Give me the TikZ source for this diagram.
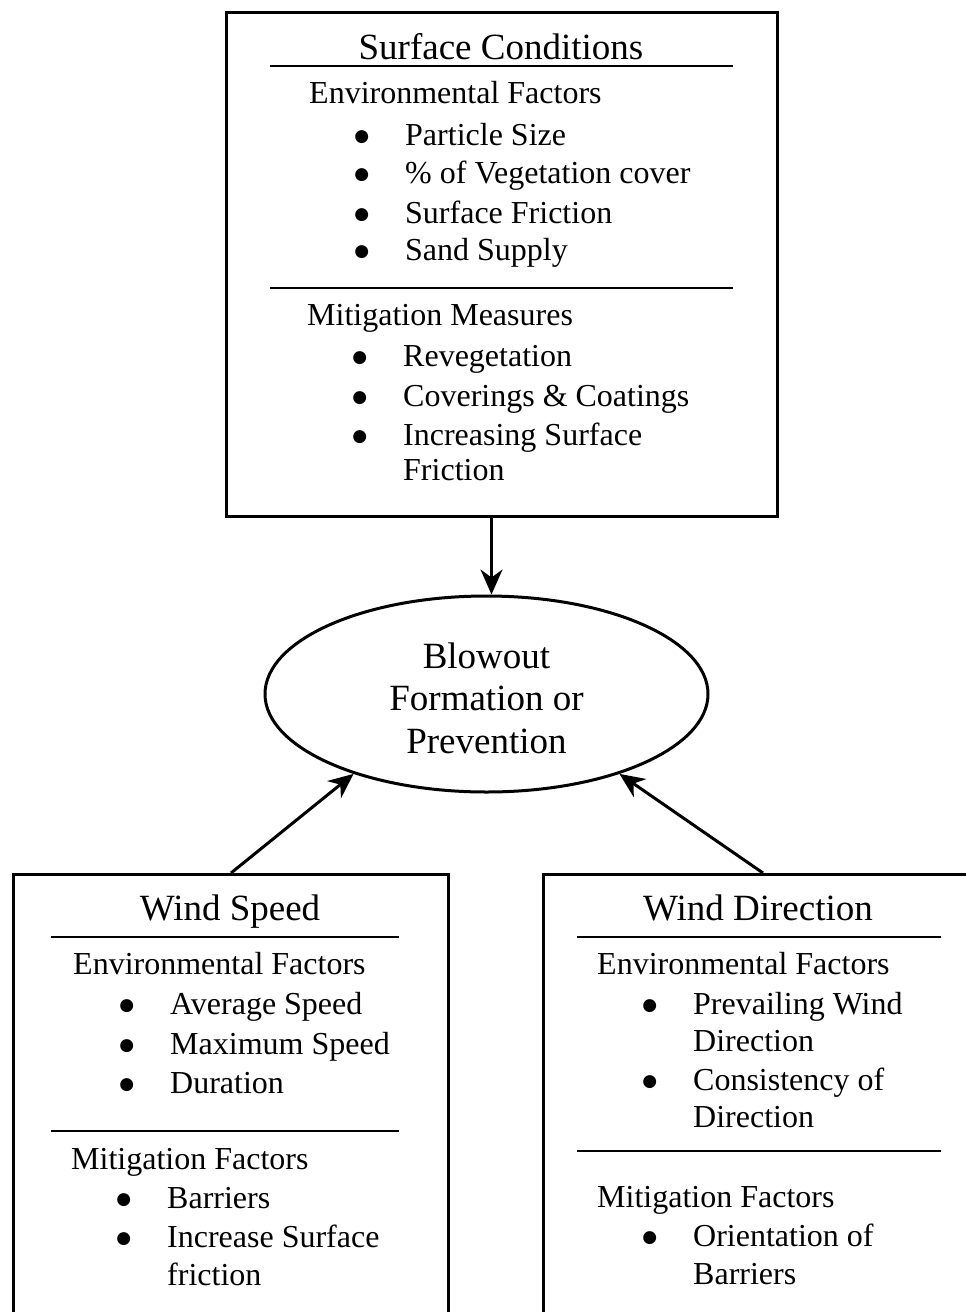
\documentclass[tikz,border=0pt]{standalone}
\usepackage{fontspec}
\setmainfont{Liberation Serif}
\newfontfamily\dotfont{DejaVu Sans}
\usetikzlibrary{arrows.meta,positioning,shapes.geometric}

\newcommand{\headsize}{\fontsize{37}{42.5}\selectfont}
\newcommand{\bodysize}{\fontsize{32}{37}\selectfont}
\newcommand{\bul}{\llap{\raisebox{4pt}{\dotfont\fontsize{17}{17}\selectfont ●}\hspace{36pt}}}

\tikzset{
	panel/.style={draw, line width=3pt, anchor=north west, inner sep=0pt},
	rule/.style={line width=2pt},
	head/.style={font=\headsize, anchor=base, inner sep=0pt},
	body/.style={font=\bodysize, anchor=base west, inner sep=0pt},
	link/.style={line width=3pt, -{Stealth[length=25pt,width=22pt,inset=8pt]}}
}

\begin{document}
\begin{tikzpicture}[x=1pt,y=1pt,yscale=-1,xscale=1]
		\useasboundingbox (0,0) rectangle (966,1312);
		\clip (0,0) rectangle (966,1312);
		
		%Shape: Boxes
		\node [panel, minimum width=551pt, minimum height=504pt] (surface) at (225,11) {};
		\node [panel, minimum width=435pt, minimum height=480pt] (speed) at (12,873) {};
		\node [panel, minimum width=460pt, minimum height=480pt] (direction) at (542,873) {};
		\coordinate (dirtop) at (763,873);
		
		%Shape: Ellipse
		\node [draw, ellipse, line width=3pt, inner sep=0pt, minimum width=443pt, minimum height=196pt] (blowout) at (486.5,694) {};
		\node [head] (blowout1) at (486.5,668) {Blowout};
		\node [head] (blowout2) at (486.5,710.5) {Formation or};
		\node [head] (blowout3) at (486.5,753) {Prevention};
		
		%Straight Lines
		\draw [link] ([xshift=5pt]blowout.north |- surface.south) -- ([xshift=5pt]blowout.north);
		\draw [link] (speed.north) -- (blowout.211);
		\draw [link] (dirtop) -- (blowout.329);
		
		% Surface Conditions
		\node [head] (sc-title) at (501,59) {Surface Conditions};
		\draw [rule] (270,66) -- (733,66);
		\node [body] (sc-env) at (309,103) {Environmental Factors};
		\node [body] (sc-e1) at (405,145) {\bul Particle Size};
		\node [body] (sc-e2) at (405,183) {\bul\% of Vegetation cover};
		\node [body] (sc-e3) at (405,223) {\bul Surface Friction};
		\node [body] (sc-e4) at (405,260) {\bul Sand Supply};
		\draw [rule] (270,288) -- (733,288);
		\node [body] (sc-mit) at (307,325) {Mitigation Measures};
		\node [body] (sc-m1) at (403,366) {\bul Revegetation};
		\node [body] (sc-m2) at (403,406) {\bul Coverings \& Coatings};
		\node [body] (sc-m3) at (403,445) {\bul Increasing Surface};
		\node [body] (sc-m3b) at (403,480) {Friction};
		
		% Wind Speed
		\node [head] (ws-title) at (230,920) {Wind Speed};
		\draw [rule] (51,937) -- (399,937);
		\node [body] (ws-env) at (73,974) {Environmental Factors};
		\node [body] (ws-e1) at (170,1014) {\bul Average Speed};
		\node [body] (ws-e2) at (170,1054) {\bul Maximum Speed};
		\node [body] (ws-e3) at (170,1093) {\bul Duration};
		\draw [rule] (51,1131) -- (399,1131);
		\node [body] (ws-mit) at (71,1169) {Mitigation Factors};
		\node [body] (ws-m1) at (167,1208) {\bul Barriers};
		\node [body] (ws-m2) at (167,1247) {\bul Increase Surface};
		\node [body] (ws-m2b) at (167,1285) {friction};
		
		% Wind Direction
		\node [head] (wd-title) at (758,920) {Wind Direction};
		\draw [rule] (577,937) -- (941,937);
		\node [body] (wd-env) at (597,974) {Environmental Factors};
		\node [body] (wd-e1) at (693,1014) {\bul Prevailing Wind};
		\node [body] (wd-e1b) at (693,1051) {Direction};
		\node [body] (wd-e2) at (693,1090) {\bul Consistency of};
		\node [body] (wd-e2b) at (693,1127) {Direction};
		\draw [rule] (577,1151) -- (941,1151);
		\node [body] (wd-mit) at (597,1207) {Mitigation Factors};
		\node [body] (wd-m1) at (693,1246) {\bul Orientation of};
		\node [body] (wd-m1b) at (693,1284) {Barriers};
		
\end{tikzpicture}
\end{document}
